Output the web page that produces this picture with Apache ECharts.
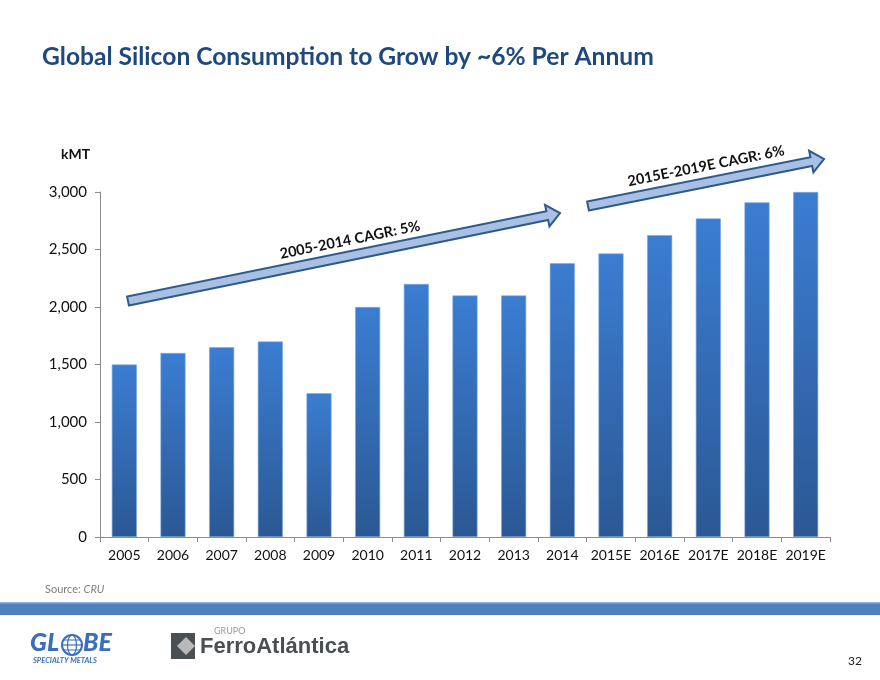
<!DOCTYPE html>
<html><head><meta charset="utf-8">
<script src="https://cdn.jsdelivr.net/npm/echarts@6/dist/echarts.min.js"></script>
<style>html,body{margin:0;padding:0;background:#fff}#c{width:880px;height:680px}</style>
</head><body><div id="c"></div>
<script>
const categories = ['2005','2006','2007','2008','2009','2010','2011','2012','2013','2014','2015E','2016E','2017E','2018E','2019E'];
const consumption = [1500,1600,1650,1700,1250,2000,2200,2100,2100,2380,2465,2625,2770,2910,3000];
const yTicks = [0,500,1000,1500,2000,2500,3000];
const cagrLabels = ['2005-2014 CAGR: 5%','2015E-2019E CAGR: 6%'];

const chart = echarts.init(document.getElementById('c'), null, {renderer:'canvas'});
const FONT = 'Lato, "Open Sans", sans-serif';

function arrowPoints(x1,y1,x2,y2,hw,headLen,headHw){
  const dx=x2-x1, dy=y2-y1, L=Math.hypot(dx,dy);
  const ux=dx/L, uy=dy/L, nx=-uy, ny=ux;
  const bx=x2-ux*headLen, by=y2-uy*headLen;
  return [
    [x1+nx*hw,y1+ny*hw],[bx+nx*hw,by+ny*hw],[bx+nx*headHw,by+ny*headHw],[x2,y2],
    [bx-nx*headHw,by-ny*headHw],[bx-nx*hw,by-ny*hw],[x1-nx*hw,y1-ny*hw]
  ];
}
function arrow(x1,y1,x2,y2){
  return {type:'polygon',shape:{points:arrowPoints(x1,y1,x2,y2,4.5,13,11)},
    style:{fill:'#a7c0e3',stroke:'#2f5b8c',lineWidth:2},z:10};
}
function angleOf(x1,y1,x2,y2){return -Math.atan2(y2-y1,x2-x1);}

const a1=[128,301,560,213], a2=[588,206,824,159];

chart.setOption({
  animation:false,
  title:{text:'Global Silicon Consumption to Grow by ~6% Per Annum',left:37,top:40,
    textStyle:{fontFamily:FONT,fontWeight:'bold',fontSize:24.6,color:'#1f497d'}},
  grid:{left:100,right:50,top:192,bottom:143,containLabel:false},
  xAxis:{type:'category',data:categories,
    axisLine:{lineStyle:{color:'#8c8c8c'}},
    axisTick:{show:true,length:5,lineStyle:{color:'#8c8c8c'}},
    axisLabel:{fontFamily:FONT,fontSize:14,color:'#111',margin:11,interval:0}},
  yAxis:{type:'value',min:0,max:3000,interval:500,
    axisLine:{show:true,lineStyle:{color:'#8c8c8c'}},
    axisTick:{show:true,length:5,lineStyle:{color:'#8c8c8c'}},
    splitLine:{show:false},
    axisLabel:{fontFamily:FONT,fontSize:15,color:'#111',margin:13,
      formatter:v=>v.toLocaleString('en-US')}},
  series:[{type:'bar',data:consumption,barWidth:25,
    itemStyle:{color:new echarts.graphic.LinearGradient(0,0,0,1,[{offset:0,color:'#3b7dd2'},{offset:1,color:'#2b5894'}]),
      borderColor:'#7aa7e0',borderWidth:0.6}}],
  graphic:[
    {type:'text',left:61,top:147,style:{text:'kMT',font:'bold 14px '+FONT,fill:'#111'}},
    arrow(...a1),
    arrow(...a2),
    {type:'text',x:350,y:240,rotation:angleOf(...a1),z:11,
      style:{text:cagrLabels[0],font:'bold 14.5px '+FONT,fill:'#111',align:'center',verticalAlign:'middle'}},
    {type:'text',x:706,y:166,rotation:angleOf(...a2),z:11,
      style:{text:cagrLabels[1],font:'bold 14.5px '+FONT,fill:'#111',align:'center',verticalAlign:'middle'}},
    {type:'text',left:45,top:584,style:{rich:{a:{fontFamily:FONT,fontSize:11,fill:'#7f7f7f'},b:{fontFamily:FONT,fontSize:11,fill:'#7f7f7f',fontStyle:'italic'}},text:'{a|Source: }{b|CRU}'}},
    {type:'rect',shape:{x:0,y:603,width:880,height:12},style:{fill:'#4f81bd'}},
    {type:'rect',shape:{x:0,y:602,width:880,height:1.5},style:{fill:'#8fb0d8'}},
    // Globe logo
    {type:'text',left:30,top:630,style:{text:'GL',font:'italic 900 25px '+FONT,fill:'#3a6fb7'}},
    {type:'circle',shape:{cx:72,cy:645,r:10},style:{fill:'none',stroke:'#3a6fb7',lineWidth:2}},
    {type:'ellipse',shape:{cx:72,cy:645,rx:4.5,ry:10},style:{fill:'none',stroke:'#3a6fb7',lineWidth:1.2}},
    {type:'line',shape:{x1:62,y1:645,x2:82,y2:645},style:{stroke:'#3a6fb7',lineWidth:1.2}},
    {type:'line',shape:{x1:64,y1:640,x2:80,y2:640},style:{stroke:'#3a6fb7',lineWidth:1}},
    {type:'line',shape:{x1:64,y1:650,x2:80,y2:650},style:{stroke:'#3a6fb7',lineWidth:1}},
    {type:'text',left:83,top:630,style:{text:'BE',font:'italic 900 25px '+FONT,fill:'#3a6fb7'}},
    {type:'text',left:33,top:657,style:{text:'SPECIALTY METALS',font:'italic bold 7.5px '+FONT,fill:'#3a6fb7'}},
    // FerroAtlantica logo
    {type:'rect',shape:{x:171,y:633,width:24,height:26},style:{fill:'#4a4f52'}},
    {type:'polygon',shape:{points:[[177,646],[186,637],[195,646],[186,655]]},style:{fill:'#b9b9b9'}},
    {type:'text',left:214,top:627,style:{text:'GRUPO',font:'9px '+FONT,fill:'#9a9a9a'}},
    {type:'text',left:200,top:636,style:{text:'FerroAtlántica',font:'bold 22px "Liberation Sans", Arial, sans-serif',fill:'#4a4f52'}},
    {type:'text',left:848,top:655,style:{text:'32',font:'12px '+FONT,fill:'#222'}}
  ]
});
</script></body></html>
